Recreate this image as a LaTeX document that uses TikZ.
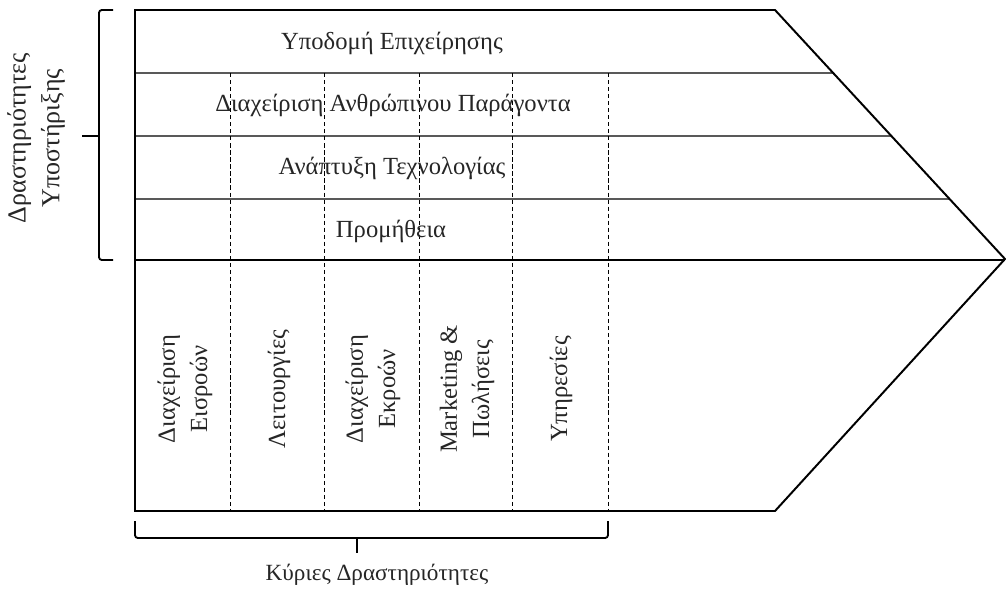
\documentclass[tikz,border=0pt]{standalone}
\usepackage{fontspec}
\setmainfont{Liberation Serif}
\usetikzlibrary{calc}
\begin{document}
\begin{tikzpicture}[x=0.025cm, y=-0.025cm,
    label/.style={font=\fontsize{17.5}{23}\selectfont, inner sep=0pt, align=center, text=black!85},
    vlabel/.style={label, rotate=90},
    outline/.style={line width=1.4pt, line join=miter},
    divider/.style={line width=0.9pt},
    column/.style={line width=0.6pt, dash pattern=on 3pt off 2pt},
    bracket/.style={line width=1.3pt, rounded corners=2pt}
]
\useasboundingbox (0,0) rectangle (1006,592);

\coordinate (tr) at (775,10);
\coordinate (tip) at (1005,259);
\coordinate (br) at (775,511);

% value chain outline
\draw[outline] (135,10) -- (tr) -- (tip) -- (br) -- (135,511) -- cycle;
\draw[outline] (135,260) -- (1005,260);

% support rows
\draw[divider] (135,73) -- ($(tr)!0.253!(tip)$);
\draw[divider] (135,136) -- ($(tr)!0.506!(tip)$);
\draw[divider] (135,199) -- ($(tr)!0.759!(tip)$);

% primary columns (dashed)
\foreach \x in {230,324,419,512,608}
    \draw[column] (\x,73) -- (\x,511);

\node[label] (infra) at (392,43) {Υποδομή Επιχείρησης};
\node[label] (hrm) at (393,105) {Διαχείριση Ανθρώπινου Παράγοντα};
\node[label] (tech) at (392,168) {Ανάπτυξη Τεχνολογίας};
\node[label] (procure) at (391,231) {Προμήθεια};

\node[vlabel] (inbound) at (185,389) {Διαχείριση\\Εισροών};
\node[vlabel] (ops) at (279,389) {Λειτουργίες};
\node[vlabel] (outbound) at (373,389) {Διαχείριση\\Εκροών};
\node[vlabel] (sales) at (467,389) {Marketing \&\\Πωλήσεις};
\node[vlabel] (service) at (561,389) {Υπηρεσίες};

% brackets
\draw[bracket] (113,10) -- (99,10) -- (99,260) -- (113,260);
\draw[bracket] (99,136) -- (82,136);
\node[vlabel, font=\fontsize{18.5}{24}\selectfont] (support) at (36,138) {Δραστηριότητες\\Υποστήριξης};

\draw[bracket] (135,521) -- (135,538) -- (608,538) -- (608,521);
\draw[bracket] (357,538) -- (357,553);
\node[label, font=\fontsize{16.5}{22}\selectfont] (primary) at (377,575) {Κύριες Δραστηριότητες};

\end{tikzpicture}
\end{document}
